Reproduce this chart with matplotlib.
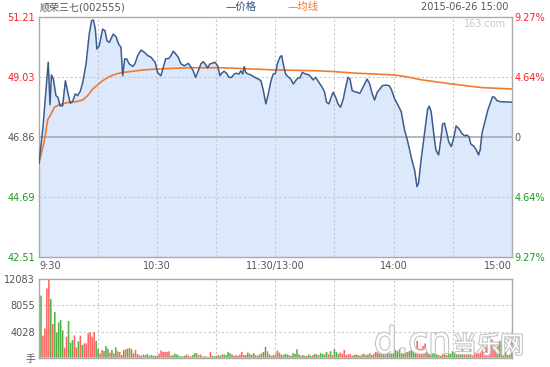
import matplotlib
matplotlib.use("Agg")
import matplotlib.pyplot as plt
import matplotlib.patheffects as pe

plt.rcParams['font.family'] = ['DejaVu Sans', 'Noto Sans CJK SC']

# ---------------- data ----------------
price_min = [0, 2, 4.7, 5.6, 6.3, 7.3, 8.6, 9.6, 10.7, 12, 13.4, 14.6, 15.9, 17.1, 18.4, 19.6, 21, 22.2,
             23.9, 25.5, 26.7, 27.6, 28.6, 29.4, 30.6, 32.3, 33.5, 34.5, 35.7, 36.5, 37.7, 39.1, 40.4,
             41.6, 42.5, 43.5, 44.5, 45.8, 47.6, 48.7, 50.1, 51.8, 53.5, 55.2, 56.9, 59, 60.2, 61.9,
             63.1, 64.3, 66, 67, 68.2, 69.4, 70.7, 72.1, 73.8, 75.8, 77.2, 78.3, 79.5, 80.9, 82.2,
             83.4, 84.6, 85.6, 86.8, 88, 89.3, 90.7, 91.9, 92.7, 93.9, 95.3, 96.4, 97.8, 99.1, 100.3,
             101.5, 102.5, 103.4, 104.2, 104.9, 106.2, 107.6, 109.6, 111.3, 112.7, 113.9, 115.2,
             116.4, 117.8, 118.9, 120, 121, 122.3, 123.2, 124, 125.2, 126.4, 127.8, 129.1, 130.3,
             131.5, 132.5, 133.7, 135.4, 137.1, 138.2, 139.2, 140.5, 142.1, 143.8, 145, 146, 147.2,
             148.4, 149.4, 150.6, 151.8, 153.1, 154.5, 155.7, 156.9, 157.9, 159, 160.3, 161.6, 162.9,
             164.1, 165.3, 166.6, 167.9, 169.2, 170.4, 171.7, 173.1, 174.3, 176, 177.7, 178.8, 180.5,
             182.2, 183.9, 185.6, 186.8, 188, 189.3, 190.7, 191.9, 192.7, 194, 195.3, 196.4, 197.3,
             198.1, 199.1, 200.4, 201.5, 202.9, 204.1, 204.9, 205.9, 207.1, 208, 209.3, 210.5, 211.8,
             213.1, 214.7, 216.1, 217.3, 218.4, 219.2, 220.7, 221.9, 223.2, 224, 224.9, 226.2, 227.9,
             229.1, 230.3, 231.3, 232.5, 234.2, 236.7, 240]
price_val = [45.90, 47.20, 49.56, 48.02, 49.10, 48.95, 48.35, 48.29, 47.98, 47.98, 48.89, 48.47, 48.07,
             48.14, 48.41, 48.35, 48.51, 48.83, 49.50, 50.58, 51.07, 51.09, 50.76, 50.04, 50.16, 50.76,
             50.70, 50.34, 50.28, 50.40, 50.58, 50.48, 50.22, 50.10, 49.07, 49.68, 49.68, 49.50, 49.41,
             49.50, 49.80, 50.00, 49.92, 49.80, 49.74, 49.55, 49.19, 49.07, 49.38, 49.68, 49.70, 49.80,
             49.96, 49.86, 49.74, 49.50, 49.43, 49.52, 49.38, 49.25, 49.01, 49.25, 49.50, 49.58, 49.47,
             49.35, 49.50, 49.52, 49.56, 49.43, 49.07, 49.16, 49.23, 49.16, 49.01, 49.01, 49.13, 49.16,
             49.13, 49.25, 49.13, 49.40, 49.19, 49.13, 49.10, 49.01, 48.95, 48.89, 48.53, 48.05, 48.41,
             48.89, 49.13, 49.15, 49.50, 49.74, 49.80, 49.50, 49.13, 49.04, 48.95, 48.77, 48.89, 48.99,
             48.99, 49.19, 49.13, 49.10, 49.01, 48.92, 49.01, 48.83, 48.65, 48.47, 48.11, 48.05, 48.31,
             48.47, 48.29, 48.05, 47.93, 48.23, 48.65, 49.01, 48.95, 48.53, 48.49, 48.47, 48.43, 48.59,
             48.77, 48.95, 48.77, 48.41, 48.19, 48.47, 48.59, 48.71, 48.73, 48.71, 48.59, 48.25, 48.01,
             47.77, 47.10, 46.80, 46.44, 46.02, 45.65, 45.05, 45.17, 46.02, 46.74, 47.35, 47.85, 47.97,
             47.77, 46.98, 46.38, 46.20, 46.80, 47.32, 47.35, 46.98, 46.68, 46.50, 46.80, 47.25, 47.16,
             46.98, 46.89, 46.92, 46.84, 46.60, 46.52, 46.40, 46.20, 46.38, 46.98, 47.35, 47.83, 48.07,
             48.31, 48.29, 48.17, 48.13, 48.12, 48.11]

avg_min = [0, 2.7, 4.4, 6.1, 7.8, 10.3, 12.9, 15.4, 18.8, 22.2, 24.7, 27.3, 29.8, 32.3, 35.7, 39.1,
           42.5, 47.6, 52.6, 59, 75.8, 92.7, 109.6, 120, 141.3, 149.7, 161.6, 180, 186, 194.4, 209.6,
           224.9, 240]
avg_val = [45.90, 46.71, 47.47, 47.68, 47.93, 48.02, 48.07, 48.11, 48.13, 48.19, 48.35, 48.59, 48.74,
           48.89, 49.04, 49.13, 49.19, 49.23, 49.28, 49.31, 49.36, 49.36, 49.31, 49.28, 49.25, 49.22,
           49.16, 49.10, 49.04, 48.92, 48.77, 48.64, 48.59]

volume = [2830, 9560, 3390, 4520, 10690, 12000, 9050, 5190, 7040, 3900,
          5450, 5810, 4210, 1540, 3240, 5650, 2310, 2720, 3440, 1590,
          2520, 3390, 1950, 2210, 2210, 3750, 3960, 3240, 3960, 2620,
          1390, 670, 1180, 1030, 1800, 1390, 770, 1180, 670, 1590,
          980, 870, 410, 1180, 1290, 1390, 1490, 1290, 670, 1180,
          570,
          400, 300, 500, 400, 600, 300, 400, 300, 300, 300,
          600, 1100, 900, 900, 900, 1000, 300, 400, 600, 500,
          300, 200, 200, 300, 500, 300, 200, 400, 700, 700,
          400, 500, 200, 200, 200, 100, 900, 300, 200, 300,
          400, 300, 500, 500, 400, 900, 700, 500, 300, 400,
          300, 500, 900, 400, 400, 800, 600, 400, 700, 400,
          300, 500, 700, 900, 1700, 1000, 500, 300, 400, 500,
          1100, 800, 500, 400, 600, 500, 400, 300, 700, 600,
          1300, 500, 300, 400, 300, 300, 500, 300, 400, 600,
          500, 400, 700, 600, 500, 900, 500, 1000, 400, 1300,
          900, 600, 800, 600, 1200, 400, 500, 600, 300, 400,
          500, 400, 300, 500, 600, 400, 500, 700, 400, 600,
          900, 800, 600, 700, 900, 500, 700, 600, 800, 1000,
          1200, 1000, 1300, 900, 1100, 800, 900, 1000, 1200, 900,
          700, 2600, 1400, 1400, 1800, 2200, 900, 600, 500, 700,
          600, 500, 400, 300, 600, 500, 400, 700, 600, 1000,
          700, 600, 500, 800, 1400, 600, 700, 500, 1300, 800,
          900, 700, 1100, 1000, 1200, 900, 1700, 1100, 900, 2800,
          1200, 1500, 1900, 2600, 2300, 1400, 800, 400, 500, 2800]
vol_dir = ("ggrrrrgrgg" "gggrrgggrr" "grgrrrrrrg" "grrgggrgrg" "rrggrgrgrr" "r"
           "rgrggrgggg" "rrrrrrgrgg" "ggggrrrggg" "rrggrrrggr" "ggrggggrrg" "rrrrggrggr" "ggrggrgrgr"
           "rrgrggrggg" "ggrggrggrg" "grggggrgrg" "ggrrrrrrrg" "grgrgrgrgr" "rggrgrgrgg"
           "ggggggrggg" "grrrrrggrg" "ggrgrgrggg" "ggrggrrggr" "rrrrrrrrrr" "rgrggrgrgr")

price_ticks = [42.51, 44.69, 46.86, 49.03, 51.21]
price_labels = ["42.51", "44.69", "46.86", "49.03", "51.21"]
pct_labels = ["9.27%", "4.64%", "0", "4.64%", "9.27%"]
vol_ticks = [0, 4028, 8055, 12083]
vol_labels = ["手", "4028", "8055", "12083"]
time_ticks = [0, 60, 120, 180, 240]
time_labels = ["9:30", "10:30", "11:30/13:00", "14:00", "15:00"]
grid_minutes = [30, 60, 90, 120, 150, 180, 210]

# ---------------- styling ----------------
RED = "#ff2020"
GREEN = "#1e9a1e"
GRAY = "#555555"
FRAME = "#aaaaaa"
GRID = "#c8c8c8"
LINE = "#3d5c8c"
AVG = "#f07a30"
FILL = "#dce8fb"
BAR_RED = "#ff6464"
BAR_GREEN = "#55b045"
label_colors = [GREEN, GREEN, GRAY, RED, RED]

W, H = 550, 367
fig = plt.figure(figsize=(5.5, 3.67), dpi=100)
fig.patch.set_facecolor("white")

def fx(px):
    return px / W

def fy(py):
    return 1 - py / H

ax = fig.add_axes([fx(39), fy(256.7), fx(511.7) - fx(39), fy(16.7) - fy(256.7)])
axv = fig.add_axes([fx(39), fy(357.7), fx(511.7) - fx(39), fy(279.3) - fy(357.7)])

# price panel
ax.set_xlim(0, 240)
ax.set_ylim(price_ticks[0], price_ticks[-1])
ax.fill_between(price_min, price_val, price_ticks[0], color=FILL, lw=0, zorder=1)
for m in grid_minutes:
    ax.axvline(m, color=GRID, lw=0.8, ls=(0, (2, 2)), zorder=2)
for t in (price_ticks[1], price_ticks[3]):
    ax.axhline(t, color=GRID, lw=0.8, ls=(0, (2, 2)), zorder=2)
ax.axhline(price_ticks[2], color=FRAME, lw=1.2, zorder=2)
ax.plot(avg_min, avg_val, color=AVG, lw=1.2, zorder=3)
ax.plot(price_min, price_val, color=LINE, lw=1.1, zorder=4)

for s in ax.spines.values():
    s.set_color(FRAME)
    s.set_linewidth(1.0)

ax.set_yticks(price_ticks)
ax.set_yticklabels(price_labels)
ax.tick_params(axis="y", length=0, pad=3, labelsize=7)
for lbl, c in zip(ax.get_yticklabels(), label_colors):
    lbl.set_color(c)

ax.set_xticks(time_ticks)
ax.set_xticklabels(time_labels)
ax.tick_params(axis="x", length=0, pad=3, labelsize=7, labelcolor=GRAY)
xl = ax.get_xticklabels()
xl[0].set_ha("left")
xl[-1].set_ha("right")

ax2 = ax.twinx()
ax2.set_ylim(price_ticks[0], price_ticks[-1])
ax2.set_yticks(price_ticks)
ax2.set_yticklabels(pct_labels)
ax2.tick_params(axis="y", length=0, pad=2, labelsize=7)
for lbl, c in zip(ax2.get_yticklabels(), label_colors):
    lbl.set_color(c)
for s in ax2.spines.values():
    s.set_visible(False)

# volume panel
axv.set_xlim(0, 240)
axv.set_ylim(0, vol_ticks[-1])
for m in grid_minutes:
    axv.axvline(m, color=GRID, lw=0.8, ls=(0, (2, 2)), zorder=1)
for t in (vol_ticks[1], vol_ticks[2]):
    axv.axhline(t, color=GRID, lw=0.8, ls=(0, (2, 2)), zorder=1)
bar_colors = [BAR_RED if d == "r" else BAR_GREEN for d in vol_dir]
axv.bar(range(len(volume)), volume, width=0.8, color=bar_colors, edgecolor="none",
        lw=0, zorder=2, snap=False)
for s in axv.spines.values():
    s.set_color(FRAME)
    s.set_linewidth(1.0)
axv.set_yticks(vol_ticks)
axv.set_yticklabels(vol_labels)
axv.tick_params(axis="y", length=0, pad=3, labelsize=7, labelcolor=GRAY)
axv.set_xticks([])

# header texts
fig.text(fx(40), fy(7), "顺荣三七(002555)", fontsize=7.2, color=GRAY, va="center", ha="left")
fig.text(fx(226), fy(7), "—价格", fontsize=7.5, color="#2b4b80", va="center", ha="left")
fig.text(fx(287), fy(7), "—均线", fontsize=7.5, color=AVG, va="center", ha="left")
fig.text(fx(508), fy(7), "2015-06-26 15:00", fontsize=7, color=GRAY, va="center", ha="right")
fig.text(fx(506), fy(24), "163.com", fontsize=7, color="#c8c8c8", va="center", ha="right")

# watermark
stroke = [pe.withStroke(linewidth=1.6, foreground="#c4c4c4")]
fig.text(fx(374), fy(353), "d.cn", fontsize=26, color="white", ha="left", va="baseline",
         path_effects=stroke, zorder=10)
fig.text(fx(453), fy(353), "当乐网", fontsize=17, color="white", ha="left", va="baseline",
         path_effects=stroke, zorder=10, family=["Noto Sans CJK SC"])

fig.savefig("out.png", dpi=100)
